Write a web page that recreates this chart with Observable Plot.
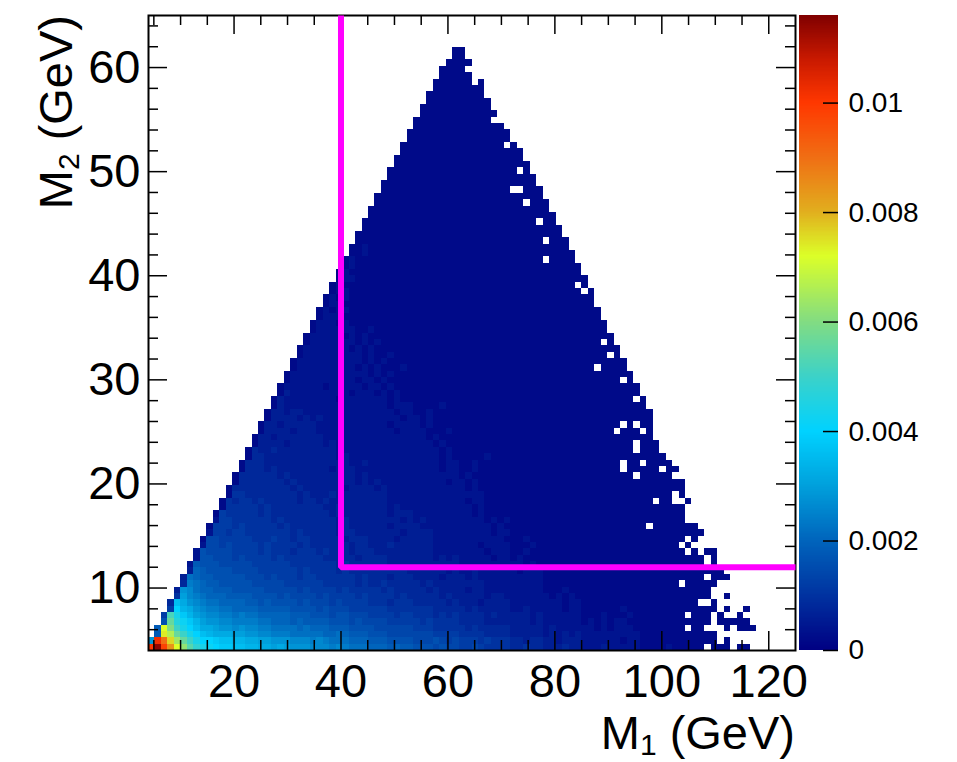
<!DOCTYPE html>
<html><head><meta charset="utf-8">
<script src="https://cdn.jsdelivr.net/npm/d3@7"></script>
<script src="https://cdn.jsdelivr.net/npm/@observablehq/plot@0.6"></script>
<style>
html,body{margin:0;padding:0;background:#fff;}
#wrap{position:relative;width:957px;height:762px;overflow:hidden;}
#wrap svg{position:absolute;top:0;}
</style></head><body><div id="wrap"></div>
<script>
// ---- binning of the 2D histogram ----
const xRange = [4, 125], nx = 100;
const yRange = [4, 65], ny = 100;
const zMax = 0.0116;
const levelUnit = 0.0002; // one level step of the cell codes below
const levelCodes = "0123456789abcdefghijklmnopqrstuvwxyzABCDEFGHIJKLMNOPQRSTUVWXYZ";
// first filled M1 bin of every M2 row (row 0 = lowest)
const rowStart = [0,0,1,1,2,2,3,3,4,4,5,5,6,6,7,7,8,8,9,9,10,10,11,11,12,12,13,13,14,14,15,15,16,16,17,17,18,18,19,19,20,20,21,21,22,22,23,23,24,24,25,25,26,26,27,27,28,28,29,29,30,30,31,31,32,32,33,33,34,34,35,35,36,36,37,37,38,38,39,39,40,40,41,41,42,42,43,43,44,44,45,45,46,47,47];
// cell contents per row, from rowStart; code = level (x levelUnit), "." = empty bin, c{n} = n repeats
const rows = [
"OVNGAvromlkjjii hhggfgfeee dddcdcbbb aaa9a99 8887877 66765555 44544 333433 222322222 1111211111 . 111 . 11",
"ePJCwspmkkjiihh ggffeeeddd cdcbbbaaa 9998888 7778767 66656555 44344 332333 222222122 1{12}.1",
"9Bxspmkihgggff eeddcccbbb bbaaba999 8887777 7776666 55554444 33333 232323 222222222 1{12}",
"9Aupmkiggfeede ddccbbbbab aaa999888 8777777 6665555 54544444 33333 232222 221212221 1{7}.11...1.111",
"8snljhfeeddcc ccbbaaa9a9 999888787 7776666 6565555 44443333 33323 222222 121212211 1{11}.1{5}",
"6qmjhfeddccbc bbaaaaa999 888788777 6666566 5554545 44443433 33323 222222 111211121 1{7}.111.1..1",
"6khgedccbbaa aa99999888 878777666 6665555 5554444 43433333 22322 222122 111111211 1{12}.1..1",
"4igedcbbaaaa 9989888878 777676666 5554555 4444434 33323333 22222 222122 1{9} 1{9}..1",
"5fdcbaaa999 9888878777 767666656 5555454 4444343 33332332 22222 212121 1{9} 1{11}..1",
"3edbaa99988 8887777767 666656555 5545444 4434333 32332222 22222 111211 1{9} 1{11}",
"4cba998888 8777776666 665555545 4454444 4343333 33332222 22222 1{6} 1{9} 1{6}.1{5}",
"3ba9988888 7776766656 655555545 4443444 3333233 32322222 22222 1{6} 1{9} 1{10}.111",
"3a9888877 7766666656 555545444 4444443 3333323 22322222 21222 1{6} 1{9} 1{13}",
"298887777 7666666555 555545444 4443333 3333333 22222222 22121 1{6} 1{9} 1{10}.1",
"28877767 6666565555 554444434 4443333 3332323 22222122 12111 1{6} 1{9} 1{10}.1",
"28777766 6656555455 545444344 4333333 3332222 22221222 11211 1{6} 1{9} 1{7}.1.11",
"2776766 6656555545 444444344 3334333 3332222 22212222 11121 1{6} 1{9} 1{6}.1",
"1776666 6555655455 444443444 3333233 3332222 22222221 11211 1{6} 1{9} 1{7}.1",
"266566 5555555454 444434433 3333323 3332222 22222122 1{5} 1{6} 1{9} 1{10}",
"166656 5555545444 444434333 3332333 3222222 22222121 1{5} 1{6} 1{9} 1.1{7}",
"26655 5555454444 444434333 3333323 2322222 22221212 1{5} 1{6} 1{9} 1{7}",
"16555 5545444444 444343333 3332333 2222222 22121111 1{5} 1{6} 1{9} 1{7}",
"1555 5545444444 443343333 3332322 2222222 22121111 1{5} 1{6} 1{9} 1{7}",
"1545 5454444434 434333333 3332222 2222222 21221111 1{5} 1{6} 1{9} 11.11..1",
"155 4444444434 333433333 3332222 2222222 22221111 1{5} 1{6} 1{9} 1{5}.1",
"144 4444444343 333332333 3232222 2222222 21211111 1{5} 1{6} 1{9} 1{7}",
"14 4444443433 333333323 2322222 2222212 21211111 1{5} 1{6} 1{9} 1{7}",
"14 4444434333 333333323 2222222 2222222 12111111 1{5} 1{6} 1{8}. 1{5}",
"1 4443433333 333233322 2222222 2222122 11211111 1{5} 1{6} 1{6}.11 111.11",
"1 4443333333 333333223 2222222 2222122 11211111 1{5} 1{6} 1{6}.11 .1111",
"1443333333 333323222 2222222 2222121 11112111 1{5} 1{6} 1{9} 1111",
"1433433333 333322222 2222222 2222121 1{8} 1{5} 1{6} 1{8}. 111",
"133332333 332322222 2222222 2221211 1{8} 1{5} 1{6} 1{8}. 111",
"133233333 332222222 2222222 2212111 1{8} 1{5} 1{6} 1{9} 11",
"13333233 322222222 2222122 2211121 1{8} 1{5} 1{6} 1{5}.111 .1",
"13323333 322222222 2221222 2121111 1{8} 1{5} 1{6} 1{6}.1. 11",
"1 333 323 232222222 2222212 2121111 1{30}",
"1 332 332 222222222 2222122 1121111 1{30}",
"1 32 222 222222222 2221222 1111211 1{29}",
"1 32 222 222212222 2221211 1111111 1{27}.1",
"1 3 222 222222122 2121211 1111111 1{28}",
"1 22222212222212 21211 1{36}",
"1 2222222222122 1211 1{34} .1",
"1 222222222222 1 212111 1{34}",
"1 22222222212 1211121 1{28} .1111",
"1 2222222222 1212111 1{34}",
"1 222222222 121121 1{32} .1",
"1 22222221 2121 1{37}",
"1 2222222 12121 1{33} .1",
"1 2222212 1211 1{36}",
"1 222222 1121 1{35}",
"1 22212 1{40}",
"1 2221 1{39}",
"1 2122 1{39}",
"1 221 1{38}",
"1 212 1{38}",
"1 22 1{36} .1",
"1 21 1{35} .1",
"1 2 2 1{36}",
"1 21 1{35}",
"1 2 1{35}",
"1 2 1{29} .1111",
"112 1{32}",
"1121 1{30}",
"1{29} .111",
"1{32}",
"1{31}",
"1{27} .11",
"1{29}",
"1{28}",
"1{23} .111",
"1{26}",
"1{20} ..111",
"1{24}",
"1{23}",
"1{20} .1",
"1{21}",
"1{20}",
"1{19}",
"1{16} .1",
"1{16}",
"1{16}",
"1{14}",
"1{12}",
"1{12}",
"1{11}",
"1{10}",
"1{9}",
"1{8}",
"1{6}.1",
"1{5}",
"1{4}",
"1{4}",
"11",
"11"
];
// axes
const xMajor = [20, 40, 60, 80, 100, 120];
const xMinor = [5, 10, 15, 25, 30, 35, 45, 50, 55, 65, 70, 75, 85, 90, 95, 105, 110, 115];
const yMajor = [10, 20, 30, 40, 50, 60];
const yMinor = [6, 8, 12, 14, 16, 18, 22, 24, 26, 28, 32, 34, 36, 38, 42, 44, 46, 48, 52, 54, 56, 58, 62, 64];
const zTicks = [0, 0.002, 0.004, 0.006, 0.008, 0.01];
const zTickLabels = ["0", "0.002", "0.004", "0.006", "0.008", "0.01"];
// selection cut
const cutM1 = 40, cutM2 = 12;
// palette (value stops and colours)
const paletteStops = [0, 0.001, 0.002, 0.003, 0.004, 0.005, 0.006, 0.0072, 0.008, 0.009, 0.01, 0.0108, 0.0116];
const paletteColors = ["#000083", "#0032a0", "#0064bc", "#00a0dc", "#00d2ff", "#3cd2c8", "#82dc82", "#dcff28", "#e1af1e", "#f06e14", "#ff3700", "#c81900", "#800000"];

const FONT = "'Liberation Sans', Arial, Helvetica, sans-serif";
const W = 957, H = 762;
const mL = 148, mR = 162, mT = 15, mB = 112;
const frameW = W - mL - mR, frameH = H - mT - mB;

function expand(s) {
  return s.replace(/\s+/g, "").replace(/(.)\{(\d+)\}/g, (m, c, n) => c.repeat(+n));
}
const bw = (xRange[1] - xRange[0]) / nx, bh = (yRange[1] - yRange[0]) / ny;
const cells = [];
rows.forEach((s, iy) => {
  const t = expand(s);
  for (let k = 0; k < t.length; k++) {
    const c = t[k];
    if (c === ".") continue;
    const ix = rowStart[iy] + k;
    const lev = levelCodes.indexOf(c);
    cells.push({
      x1: xRange[0] + ix * bw, x2: xRange[0] + (ix + 1) * bw,
      y1: yRange[0] + iy * bh, y2: yRange[0] + (iy + 1) * bh,
      v: lev === 0 ? levelUnit / 2 : lev * levelUnit
    });
  }
});
const cutPath = [{x: cutM1, y: yRange[1]}, {x: cutM1, y: cutM2}, {x: xRange[1], y: cutM2}];
const colorScale = {type: "linear", domain: paletteStops, range: paletteColors};

const majLen = 19, minLen = 10;
const LABEL = 47;
const main = Plot.plot({
  width: W, height: H,
  marginLeft: mL, marginRight: mR, marginTop: mT, marginBottom: mB,
  x: {domain: xRange, axis: null},
  y: {domain: yRange, axis: null},
  color: colorScale,
  style: {fontFamily: FONT, background: "transparent", overflow: "visible"},
  marks: [
    Plot.rect(cells, {x1: "x1", x2: "x2", y1: "y1", y2: "y2", fill: "v", shapeRendering: "crispEdges"}),
    Plot.tickX(xMajor, {x: d => d, insetTop: frameH - majLen, stroke: "black", strokeWidth: 1.5}),
    Plot.tickX(xMinor, {x: d => d, insetTop: frameH - minLen, stroke: "black", strokeWidth: 1.5}),
    Plot.tickX(xMajor, {x: d => d, insetBottom: frameH - majLen, stroke: "black", strokeWidth: 1.5}),
    Plot.tickX(xMinor, {x: d => d, insetBottom: frameH - minLen, stroke: "black", strokeWidth: 1.5}),
    Plot.tickY(yMajor, {y: d => d, insetRight: frameW - majLen, stroke: "black", strokeWidth: 1.5}),
    Plot.tickY(yMinor, {y: d => d, insetRight: frameW - minLen, stroke: "black", strokeWidth: 1.5}),
    Plot.tickY(yMajor, {y: d => d, insetLeft: frameW - majLen, stroke: "black", strokeWidth: 1.5}),
    Plot.tickY(yMinor, {y: d => d, insetLeft: frameW - minLen, stroke: "black", strokeWidth: 1.5}),
    Plot.frame({stroke: "black", strokeWidth: 2}),
    Plot.line(cutPath, {x: "x", y: "y", stroke: "#ff00ff", strokeWidth: 6, strokeLinejoin: "miter", strokeLinecap: "butt"}),
    Plot.text(xMajor, {x: d => d, frameAnchor: "bottom", lineAnchor: "top", dy: 13, text: d => String(d), fontSize: LABEL, fill: "black"}),
    Plot.text(yMajor, {y: d => d, frameAnchor: "left", textAnchor: "end", dx: -8, text: d => String(d), fontSize: LABEL, fill: "black"})
  ]
});
main.style.left = "0px";
document.getElementById("wrap").appendChild(main);

// axis titles with subscripts
const svg = d3.select(main);
const xt = svg.append("text").attr("x", 795).attr("y", 749).attr("text-anchor", "end")
  .attr("font-family", FONT).attr("font-size", 47).attr("fill", "black");
xt.append("tspan").text("M");
xt.append("tspan").attr("font-size", 30).attr("dy", 6).text("1");
xt.append("tspan").attr("dy", -6).text(" (GeV)");
const yt = svg.append("text").attr("transform", "translate(72,15) rotate(-90)").attr("text-anchor", "end")
  .attr("font-family", FONT).attr("font-size", 47).attr("fill", "black");
yt.append("tspan").text("M");
yt.append("tspan").attr("font-size", 30).attr("dy", 7).text("2");
yt.append("tspan").attr("dy", -7).text(" (GeV)");

// colour bar
const cbLeft = 799, cbW = 39, cbSvgW = W - cbLeft;
const step = zMax / 500;
const barSteps = d3.range(0, zMax, step);
const bar = Plot.plot({
  width: cbSvgW, height: H,
  marginLeft: 0, marginRight: cbSvgW - cbW, marginTop: mT, marginBottom: mB,
  x: {domain: [0, 1], axis: null},
  y: {domain: [0, zMax], axis: null},
  color: colorScale,
  style: {fontFamily: FONT, background: "transparent", overflow: "visible"},
  marks: [
    Plot.rect(barSteps, {x1: 0, x2: 1, y1: d => d, y2: d => Math.min(zMax, d + step * 1.5), fill: d => d + step / 2, shapeRendering: "crispEdges"}),
    Plot.tickY(zTicks, {y: d => d, insetLeft: cbW - 15, stroke: "black", strokeWidth: 1.5}),
    Plot.text(zTicks, {y: d => d, frameAnchor: "right", textAnchor: "start", dx: 10, text: (d, i) => zTickLabels[i], fontSize: 28, fill: "black"})
  ]
});
bar.style.left = cbLeft + "px";
document.getElementById("wrap").appendChild(bar);
</script>
</body></html>
